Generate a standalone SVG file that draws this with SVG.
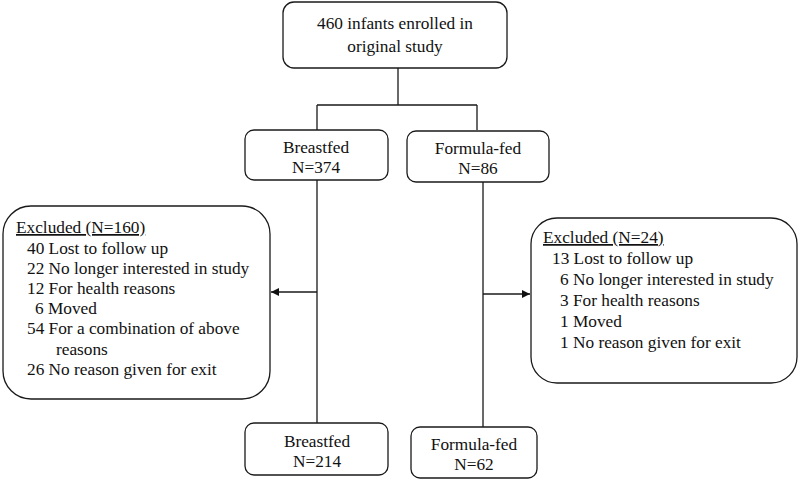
<svg xmlns="http://www.w3.org/2000/svg" width="800" height="479" viewBox="0 0 800 479">
<defs>
<style>
.box{fill:#fff;stroke:#1a1a1a;stroke-width:1.3}
.ln{fill:none;stroke:#1a1a1a;stroke-width:1.3}
.t{font-family:'Liberation Serif','Times New Roman','DejaVu Serif',serif;font-size:17.3px;fill:#111}
.c{text-anchor:middle}
</style>
<marker id="ah" viewBox="0 0 10 10" refX="10" refY="5" markerWidth="8" markerHeight="8" markerUnits="userSpaceOnUse" orient="auto">
<path d="M0,0 L10,5 L0,10 z" fill="#111"/>
</marker>
</defs>
<rect width="800" height="479" fill="#fff"/>
<g id="connectors">
<path class="ln" d="M398,68 V105 M317,105 H477 M317,105 V130 M477,105 V130"/>
<path class="ln" d="M317,180 V423 M483,182 V427"/>
<path class="ln" d="M317,292 H271" marker-end="url(#ah)"/>
<path class="ln" d="M483,294 H530" marker-end="url(#ah)"/>
</g>
<g class="t" font-family="Liberation Serif, Times New Roman, serif" font-size="17.3">
<g id="enrolled">
<rect class="box" x="283" y="2" width="224" height="66" rx="11"/>
<text class="c" x="395" y="29">460 infants enrolled in</text>
<text class="c" x="395" y="52">original study</text>
</g>
<g id="breastfed1">
<rect class="box" x="245" y="130" width="143" height="50" rx="9"/>
<text class="c" x="316" y="153">Breastfed</text>
<text class="c" x="316" y="173">N=374</text>
</g>
<g id="formula1">
<rect class="box" x="407" y="131" width="142" height="51" rx="9"/>
<text class="c" x="478" y="154">Formula-fed</text>
<text class="c" x="478" y="174">N=86</text>
</g>
<g id="excluded-left">
<rect class="box" x="3" y="206" width="267" height="193" rx="28"/>
<text x="16" y="233" text-decoration="underline">Excluded (N=160)</text>
<text x="27" y="254">40 Lost to follow up</text>
<text x="27" y="274">22 No longer interested in study</text>
<text x="27" y="294">12 For health reasons</text>
<text x="35" y="314">6 Moved</text>
<text x="27" y="334">54 For a combination of above</text>
<text x="56" y="355">reasons</text>
<text x="27" y="375">26 No reason given for exit</text>
</g>
<g id="excluded-right">
<rect class="box" x="531" y="218" width="266" height="165" rx="26"/>
<text x="543" y="243" text-decoration="underline">Excluded (N=24)</text>
<text x="552" y="264">13 Lost to follow up</text>
<text x="560" y="285">6 No longer interested in study</text>
<text x="560" y="306">3 For health reasons</text>
<text x="560" y="327">1 Moved</text>
<text x="560" y="348">1 No reason given for exit</text>
</g>
<g id="breastfed2">
<rect class="box" x="245" y="423" width="143" height="52" rx="9"/>
<text class="c" x="317" y="447">Breastfed</text>
<text class="c" x="317" y="467">N=214</text>
</g>
<g id="formula2">
<rect class="box" x="411" y="427" width="126" height="51" rx="9"/>
<text class="c" x="474" y="450">Formula-fed</text>
<text class="c" x="474" y="470">N=62</text>
</g>
</g>
</svg>
